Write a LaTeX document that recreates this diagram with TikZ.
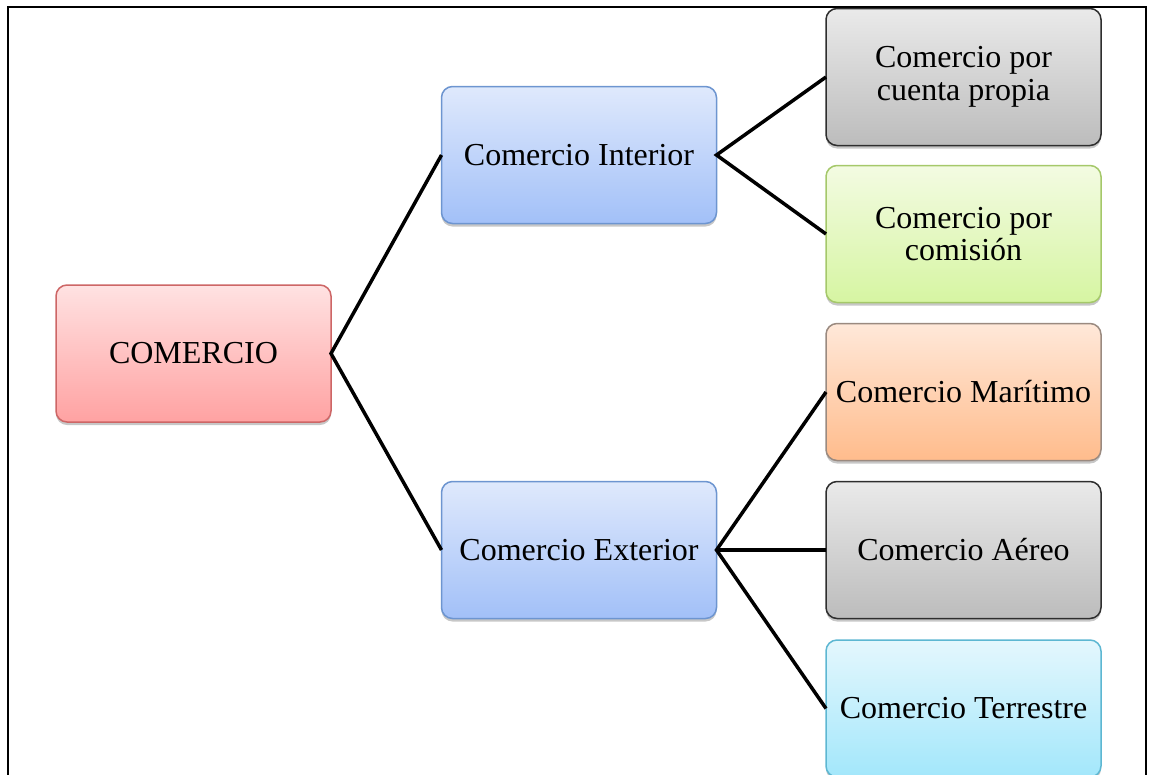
\documentclass[tikz,border=0pt]{standalone}
\usepackage{fontspec}
\setmainfont{Liberation Serif}
\usetikzlibrary{shadows}
\definecolor{redT}{HTML}{FFE2E2}
\definecolor{redB}{HTML}{FFA2A2}
\definecolor{redD}{HTML}{CD6666}
\definecolor{bluT}{HTML}{DFE9FC}
\definecolor{bluB}{HTML}{A2C0F8}
\definecolor{bluD}{HTML}{6D95D0}
\definecolor{gryT}{HTML}{EAEAEA}
\definecolor{gryB}{HTML}{BCBCBC}
\definecolor{gryD}{HTML}{2E2E2E}
\definecolor{grnT}{HTML}{F3FBE2}
\definecolor{grnB}{HTML}{D6F5A2}
\definecolor{grnD}{HTML}{A5C86A}
\definecolor{orgT}{HTML}{FFE8D9}
\definecolor{orgB}{HTML}{FFBC8C}
\definecolor{orgD}{HTML}{9A8A80}
\definecolor{cynT}{HTML}{E4F7FD}
\definecolor{cynB}{HTML}{A3E7FB}
\definecolor{cynD}{HTML}{5DB7D2}
\tikzset{
  box/.style={rectangle, rounded corners=11pt, line width=1.5pt, inner sep=0pt, outer sep=0pt,
    minimum width=275pt, minimum height=137pt, align=center,
    font=\fontsize{32}{32.5}\selectfont,
    drop shadow={shadow xshift=0pt, shadow yshift=-3pt, opacity=0.22, fill=black}},
  redbox/.style={box, draw=redD, top color=redT, bottom color=redB},
  blubox/.style={box, draw=bluD, top color=bluT, bottom color=bluB},
  grybox/.style={box, draw=gryD, top color=gryT, bottom color=gryB},
  grnbox/.style={box, draw=grnD, top color=grnT, bottom color=grnB},
  orgbox/.style={box, draw=orgD, top color=orgT, bottom color=orgB},
  cynbox/.style={box, draw=cynD, top color=cynT, bottom color=cynB},
  link/.style={line width=3.5pt, black},
}
\begin{document}
\begin{tikzpicture}[x=1pt, y=-1pt]
\useasboundingbox (0,0) rectangle (1151,774);
\coordinate (f1) at (8,780);
\coordinate (f2) at (8,7);
\coordinate (f3) at (1146,7);
\coordinate (f4) at (1146,780);
\draw[line width=2pt] (f1) -- (f2) -- (f3) -- (f4);

\node[redbox] (com) at (193.5,353.5) {COMERCIO};
\node[blubox] (int) at (579,155) {Comercio Interior};
\node[blubox] (ext) at (579,550) {Comercio Exterior};
\node[grybox] (cp) at (963.5,77) {Comercio por\\cuenta propia};
\node[grnbox] (cc) at (963.5,234) {Comercio por\\comisión};
\node[orgbox] (mar) at (963.5,392) {Comercio Marítimo};
\node[grybox] (aer) at (963.5,550) {Comercio Aéreo};
\node[cynbox] (ter) at (963.5,708.5) {Comercio Terrestre};

\draw[link] (int.west) -- (com.east) -- (ext.west);
\draw[link] (cp.west) -- (int.east) -- (cc.west);
\draw[link] (mar.west) -- (ext.east) -- (ter.west);
\draw[link] (ext.east) -- (aer.west);
\end{tikzpicture}
\end{document}
